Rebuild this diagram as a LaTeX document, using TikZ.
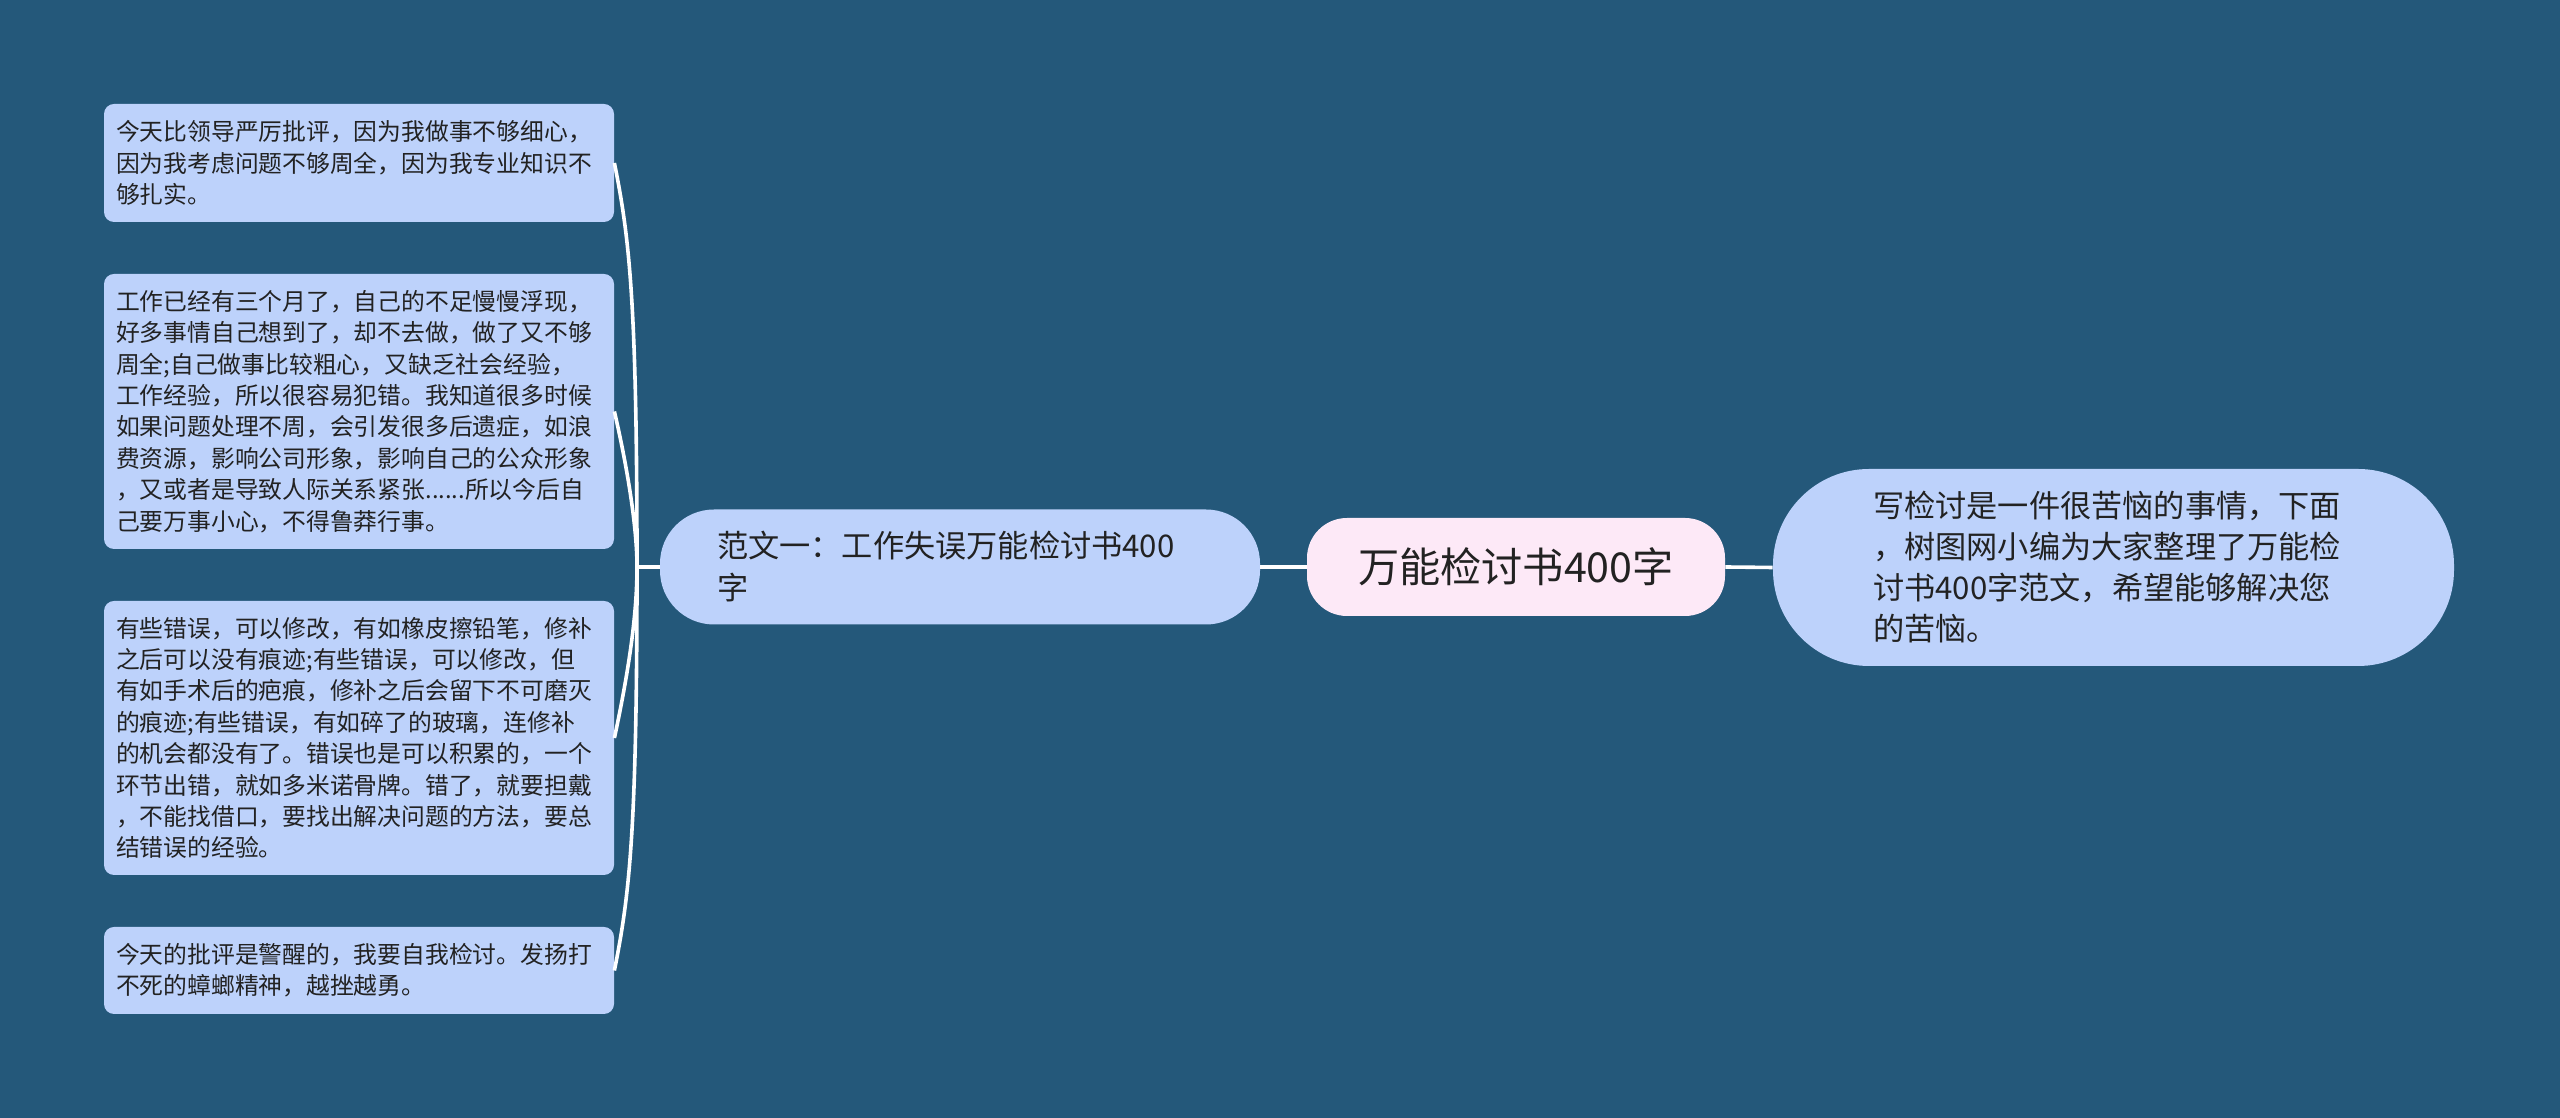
\documentclass[tikz,border=0pt]{standalone}
\usepackage{fontspec}
\setmainfont{Noto Sans CJK SC}
\usetikzlibrary{calc}
\definecolor{bgc}{RGB}{36,88,122}
\definecolor{leafc}{RGB}{189,210,251}
\definecolor{rootc}{RGB}{253,233,247}
\definecolor{txtc}{RGB}{34,34,34}
\begin{document}
\begin{tikzpicture}[x=0.5pt,y=0.5pt,
  leafbox/.style={rectangle, rounded corners=5pt, fill=leafc, text=txtc, align=left,
    inner xsep=6pt, inner ysep=0pt, text width=243pt,
    font=\fontsize{11.9pt}{15.7pt}\selectfont},
  branchbox/.style={rectangle, rounded corners=27pt, fill=leafc, text=txtc, align=left,
    inner xsep=28.5pt, inner ysep=0pt, text width=243pt, minimum height=57.5pt,
    font=\fontsize{15.6pt}{21pt}\selectfont},
  rootbox/.style={rectangle, rounded corners=20pt, fill=rootc, text=txtc,
    minimum width=209pt, minimum height=49pt, inner sep=0pt,
    font=\fontsize{20.6pt}{24pt}\selectfont},
  rightbox/.style={rectangle, rounded corners=48pt, fill=leafc, text=txtc, align=left,
    inner xsep=50pt, inner ysep=0pt, text width=240.5pt, minimum height=98.5pt,
    font=\fontsize{15.6pt}{20.5pt}\selectfont},
  conn/.style={draw=white, line width=1.8pt}]
\fill[bgc] (0,0) rectangle (2560,1118);
\useasboundingbox (0,0) rectangle (2560,1118);

\node[rootbox] (root) at (1516,551) {万能检讨书400字};
\node[branchbox] (br) at (960,551) {范文一：工作失误万能检讨书400\\字};
\node[rightbox] (rt) at (2113.5,550.5) {写检讨是一件很苦恼的事情，下面\\，树图网小编为大家整理了万能检\\讨书400字范文，希望能够解决您\\的苦恼。};

\node[leafbox, minimum height=59pt] (l1) at (359,955) {今天比领导严厉批评，因为我做事不够细心，\\因为我考虑问题不够周全，因为我专业知识不\\够扎实。};
\node[leafbox, minimum height=137.5pt] (l2) at (359,706.5) {工作已经有三个月了，自己的不足慢慢浮现，\\好多事情自己想到了，却不去做，做了又不够\\周全;自己做事比较粗心，又缺乏社会经验，\\工作经验，所以很容易犯错。我知道很多时候\\如果问题处理不周，会引发很多后遗症，如浪\\费资源，影响公司形象，影响自己的公众形象\\，又或者是导致人际关系紧张......所以今后自\\己要万事小心，不得鲁莽行事。};
\node[leafbox, minimum height=137pt] (l3) at (359,380) {有些错误，可以修改，有如橡皮擦铅笔，修补\\之后可以没有痕迹;有些错误，可以修改，但\\有如手术后的疤痕，修补之后会留下不可磨灭\\的痕迹;有些错误，有如碎了的玻璃，连修补\\的机会都没有了。错误也是可以积累的，一个\\环节出错，就如多米诺骨牌。错了，就要担戴\\，不能找借口，要找出解决问题的方法，要总\\结错误的经验。};
\node[leafbox, minimum height=43.5pt] (l4) at (359,147.5) {今天的批评是警醒的，我要自我检讨。发扬打\\不死的蟑螂精神，越挫越勇。};

\coordinate (J) at (637,551);

\draw[conn] (root.west) -- (br.east);
\draw[conn] (root.east) -- (rt.west);
\draw[conn] (br.west) -- (J);
\draw[conn] (J) .. controls ($(J|-l1.east)+(0,-137)$) and ($(l1.east)+(15,-75)$) .. (l1.east);
\draw[conn] (J) .. controls ($(J|-l2.east)+(0,-120)$) and ($(l2.east)+(15,-65)$) .. (l2.east);
\draw[conn] (J) .. controls ($(J|-l3.east)+(0,125)$) and ($(l3.east)+(15,70)$) .. (l3.east);
\draw[conn] (J) .. controls ($(J|-l4.east)+(0,137)$) and ($(l4.east)+(15,75)$) .. (l4.east);
\end{tikzpicture}
\end{document}
